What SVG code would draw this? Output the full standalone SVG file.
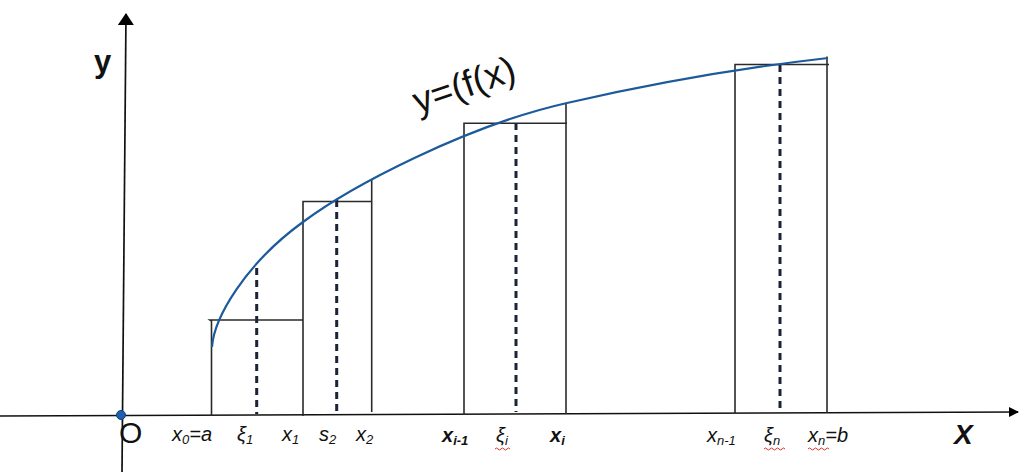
<svg xmlns="http://www.w3.org/2000/svg" width="1019" height="472" viewBox="0 0 1019 472">
<style>
.frame{stroke:#2a2a2a;stroke-width:1.6;fill:none}
.dash{stroke:#1a2436;stroke-width:3;stroke-dasharray:7 5;fill:none}
.axis{stroke:#111;stroke-width:1.7;fill:none}
.lbl{font-family:"Liberation Sans",Arial,sans-serif;font-style:italic;font-size:20px;fill:#111}
.sub{font-size:13px}
.squig{stroke:#d9302c;stroke-width:1;fill:none}
</style>
<defs>
<marker id="ahy" viewBox="0 0 12 16" refX="11" refY="8" markerWidth="12" markerHeight="16" markerUnits="userSpaceOnUse" orient="auto"><path d="M0,0 L12,8 L0,16 z" fill="#000"/></marker>
<marker id="ahx" viewBox="0 0 10 10" refX="9" refY="5" markerWidth="10" markerHeight="10" markerUnits="userSpaceOnUse" orient="auto"><path d="M0,0 L10,5 L0,10 z" fill="#000"/></marker>
</defs>
<rect width="1019" height="472" fill="#fff"/>
<g id="axes">
<line class="axis" x1="122" y1="472" x2="126" y2="14" marker-end="url(#ahy)"/>
<line class="axis" x1="0" y1="416" x2="1018" y2="412" marker-end="url(#ahx)"/>
<circle cx="121" cy="415" r="4.5" fill="#1f5fb0" stroke="#163f77" stroke-width="1"/>
</g>
<g id="connectors">
<polyline class="frame" points="211.5,416 211.5,321 210,320 303,320"/>
<line class="dash" x1="256.7" y1="268" x2="256.7" y2="414"/>
<polyline class="frame" points="303,416 303,201.5 372,201.5"/>
<line class="frame" x1="371.7" y1="180" x2="371.7" y2="412"/>
<line class="dash" x1="336.7" y1="200" x2="336.7" y2="416"/>
<polyline class="frame" points="464,415 464,123.3 567,123.3"/>
<line class="frame" x1="566" y1="103" x2="566" y2="414"/>
<line class="dash" x1="516" y1="123" x2="516" y2="412"/>
<polyline class="frame" points="735,413 735,64.5 829,64.5"/>
<line class="frame" x1="827" y1="56.5" x2="827" y2="413"/>
<line class="dash" x1="780" y1="65" x2="780" y2="412"/>
</g>
<g id="curve">
<path d="M212,347 C214,318 245,264 303,222 C350,187 465,126 567,103 C650,84 740,68 828,58" fill="none" stroke="#1d5a9a" stroke-width="2.2"/>
<text x="418" y="114" transform="rotate(-19 418 114)" font-family="Liberation Sans,Arial,sans-serif" font-size="37" fill="#111">y=(f(x)</text>
</g>
<g id="labels">
<text x="94" y="72" font-family="Liberation Sans,Arial,sans-serif" font-weight="bold" font-size="31" fill="#111">y</text>
<text x="119" y="443" font-family="Liberation Sans,Arial,sans-serif" font-size="30" fill="#111">O</text>
<text x="954" y="444" font-family="Liberation Sans,Arial,sans-serif" font-weight="bold" font-style="italic" font-size="28" fill="#111">X</text>
<text class="lbl" x="172" y="441">x<tspan class="sub" dy="3">0</tspan><tspan dy="-3">=a</tspan></text>
<text class="lbl" x="237" y="441">ξ<tspan class="sub" dy="3">1</tspan></text>
<text class="lbl" x="282" y="441">x<tspan class="sub" dy="3">1</tspan></text>
<text class="lbl" x="319" y="441">s<tspan class="sub" dy="3">2</tspan></text>
<text class="lbl" x="356" y="441">x<tspan class="sub" dy="3">2</tspan></text>
<text class="lbl" x="442" y="442" font-weight="bold">x<tspan class="sub" dy="3">i-1</tspan></text>
<text class="lbl" x="496" y="442">ξ<tspan class="sub" dy="3">i</tspan></text>
<text class="lbl" x="550" y="442" font-weight="bold">x<tspan class="sub" dy="3">i</tspan></text>
<text class="lbl" x="707" y="442">x<tspan class="sub" dy="3">n-1</tspan></text>
<text class="lbl" x="764" y="442">ξ<tspan class="sub" dy="3">n</tspan></text>
<text class="lbl" x="808" y="442">x<tspan class="sub" dy="3">n</tspan><tspan dy="-3">=b</tspan></text>
<path class="squig" d="M495,449 q1.5,-2 3,0 t3,0 t3,0 t3,0 t3,0"/>
<path class="squig" d="M764,449 q1.5,-2 3,0 t3,0 t3,0 t3,0 t3,0 t3,0 t3,0"/>
<path class="squig" d="M808,449 q1.5,-2 3,0 t3,0 t3,0 t3,0 t3,0 t3,0 t3,0"/>
</g>
</svg>
